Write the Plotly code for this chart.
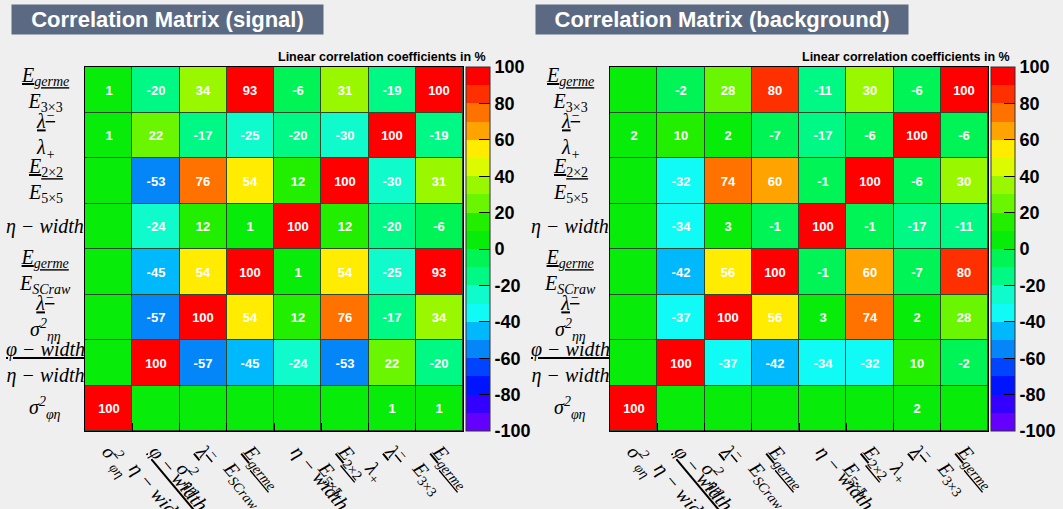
import numpy as np
import plotly.graph_objects as go

W, H = 1063, 509

# variable labels, top row first; columns use the reverse order
variables = [
    "<u><i>E<sub>germe</sub></i></u><br><i>E</i><sub>3×3</sub>",
    "<u><i>λ<sup>−</sup></i></u><br><i>λ<sub>+</sub></i>",
    "<u><i>E</i><sub>2×2</sub></u><br><i>E</i><sub>5×5</sub>",
    "<i>η − width</i>",
    "<u><i>E<sub>germe</sub></i></u><br><i>E<sub>SCraw</sub></i>",
    "<u><i>λ<sup>−</sup></i></u><br><i>σ<sup>2</sup><sub>ηη</sub></i>",
    "<u><i>φ − width</i></u><br><i>η − width</i>",
    "<i>σ<sup>2</sup><sub>φη</sub></i>",
]

# correlation coefficients in %, rows as in `variables`, columns reversed
signal = [
    [1, -20, 34, 93, -6, 31, -19, 100],
    [1, 22, -17, -25, -20, -30, 100, -19],
    [0, -53, 76, 54, 12, 100, -30, 31],
    [0, -24, 12, 1, 100, 12, -20, -6],
    [0, -45, 54, 100, 1, 54, -25, 93],
    [0, -57, 100, 54, 12, 76, -17, 34],
    [0, 100, -57, -45, -24, -53, 22, -20],
    [100, 0, 0, 0, 0, 0, 1, 1],
]
background = [
    [0, -2, 28, 80, -11, 30, -6, 100],
    [2, 10, 2, -7, -17, -6, 100, -6],
    [0, -32, 74, 60, -1, 100, -6, 30],
    [0, -34, 3, -1, 100, -1, -17, -11],
    [0, -42, 56, 100, -1, 60, -7, 80],
    [0, -37, 100, 56, 3, 74, 2, 28],
    [0, 100, -37, -42, -34, -32, 10, -2],
    [100, 0, 0, 0, 0, 0, 2, 0],
]

cbar_ticks = [-100, -80, -60, -40, -20, 0, 20, 40, 60, 80, 100]

# ROOT-like rainbow, 20 contour levels from -100 to 100
palette = [
    "#6300ff", "#3300ff", "#0014ff", "#0044ff", "#0486f8",
    "#00b8fc", "#10fbf6", "#10fbcc", "#00f885", "#00f455",
    "#08ec0a", "#22ee00", "#69f600", "#99f800", "#dcfa00",
    "#ffec00", "#ffa300", "#ff7200", "#ff3000", "#ff0000",
]
n = len(palette)
eps = 1e-6
colorscale = []
for k, c in enumerate(palette):
    lo = 0 if k == 0 else k / n - eps
    hi = 1 if k == n - 1 else (k + 1) / n - eps
    colorscale += [[lo, c], [hi, c]]

idx = np.arange(len(variables))
col_labels = variables[::-1]


def px_x(p):
    return p / W


def px_y(p):
    return 1 - p / H


fig = go.Figure()
panels = [
    (signal, "x", "y", 85, 466),
    (background, "x2", "y2", 610, 991),
]
for z, xa, ya, left, cbx in panels:
    txt = [[str(v) if v != 0 else "" for v in row] for row in z]
    fig.add_trace(go.Heatmap(
        x=idx, y=idx, z=z, text=txt, texttemplate="%{text}",
        textfont=dict(color="white", size=13, family="Liberation Sans", weight="bold"),
        xaxis=xa, yaxis=ya, zmin=-100, zmax=100, colorscale=colorscale,
        xgap=1, ygap=1, hoverinfo="skip",
        colorbar=dict(
            x=px_x(cbx), xanchor="left", y=px_y(431), yanchor="bottom",
            len=364, lenmode="pixels", thickness=24, thicknessmode="pixels",
            xpad=0, ypad=0, outlinewidth=1, outlinecolor="#333",
            tickmode="array", tickvals=cbar_ticks,
            ticktext=[str(v) for v in cbar_ticks],
            ticks="inside", ticklen=11, tickcolor="black",
            tickfont=dict(size=18, family="Liberation Sans", color="black", weight="bold"),
        ),
    ))
    # row labels, centred like the ROOT TLatex labels
    for i, lab in zip(idx, variables):
        fig.add_annotation(
            text=lab, xref="paper", yref=ya, x=px_x(left - 40), y=i,
            xanchor="center", yanchor="middle", align="center", showarrow=False,
            font=dict(family="Liberation Serif", size=20, color="black"),
        )

axis_common = dict(
    showline=True, mirror=True, linecolor="black", linewidth=1,
    showgrid=False, zeroline=False, automargin=False,
    tickmode="array", tickvals=idx, ticks="",
)
for suffix, (x0, x1) in [("", (85, 463)), ("2", (610, 988))]:
    fig.update_layout({
        "xaxis" + suffix: dict(
            axis_common, domain=[px_x(x0), px_x(x1)], range=[-0.5, 7.5],
            ticktext=col_labels, tickangle=50, anchor="y" + suffix,
            tickfont=dict(family="Liberation Serif", size=20, color="black"),
            minor=dict(tickmode="array", tickvals=idx[:-1] + 0.5, ticks="inside",
                       ticklen=8, tickcolor="black", showgrid=False),
        ),
        "yaxis" + suffix: dict(
            axis_common, domain=[px_y(431), px_y(67)], range=[7.5, -0.5],
            showticklabels=False, anchor="x" + suffix,
        ),
    })

titles = [("Correlation Matrix (signal)", 11, 311),
          ("Correlation Matrix (background)", 535, 372)]
for t, x0, w in titles:
    fig.add_annotation(
        text="<b>" + t + "</b>", xref="paper", yref="paper",
        x=px_x(x0), y=px_y(4), xanchor="left", yanchor="top",
        width=w, height=29, borderpad=0, bgcolor="#5b6a82",
        font=dict(family="Liberation Sans", size=22, color="white"),
        showarrow=False, align="center", valign="middle",
    )
for xr in [488, 1012]:
    fig.add_annotation(
        text="<b>Linear correlation coefficients in %</b>", xref="paper", yref="paper",
        x=px_x(xr), y=px_y(57), xanchor="right", yanchor="middle",
        font=dict(family="Liberation Sans", size=12.5, color="black"),
        showarrow=False,
    )

fig.update_layout(
    width=W, height=H, template="none",
    margin=dict(l=0, r=0, t=0, b=0, autoexpand=False),
    paper_bgcolor="#efefef", plot_bgcolor="#2c4a2c",
    showlegend=False,
)

# drop the browser's default page margin so the figure sits at (0, 0)
fig.write_html("out.html", config={"displayModeBar": False},
               post_script="document.body.style.margin='0';")
